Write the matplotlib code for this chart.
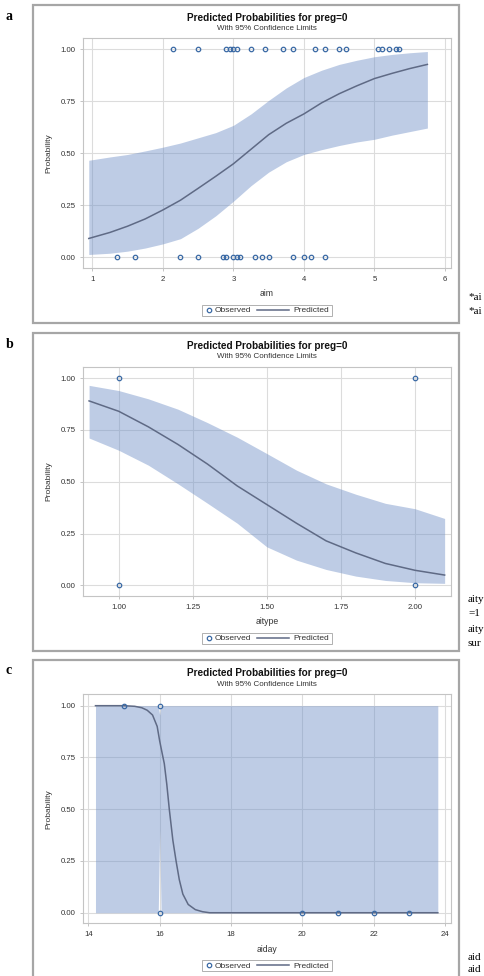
import matplotlib
matplotlib.use('Agg')
import matplotlib.pyplot as plt
from matplotlib.lines import Line2D
from matplotlib.patches import Rectangle

plt.rcParams['font.family'] = ['Liberation Sans', 'DejaVu Sans']

# panel a: aim
aim_x = [0.95, 1.25, 1.5, 1.75, 2.0, 2.25, 2.5, 2.75, 3.0, 3.25, 3.5, 3.75, 4.0, 4.25, 4.5, 4.75, 5.0, 5.25, 5.5, 5.75]
aim_pred = [0.091, 0.12, 0.15, 0.185, 0.228, 0.275, 0.332, 0.39, 0.45, 0.52, 0.59, 0.645, 0.69, 0.743, 0.787, 0.825, 0.86, 0.885, 0.908, 0.928]
aim_upper = [0.467, 0.483, 0.495, 0.512, 0.53, 0.55, 0.575, 0.6, 0.635, 0.69, 0.755, 0.815, 0.865, 0.9, 0.928, 0.948, 0.965, 0.976, 0.984, 0.99]
aim_lower = [0.014, 0.02, 0.03, 0.045, 0.065, 0.09, 0.14, 0.2, 0.27, 0.345, 0.41, 0.46, 0.495, 0.518, 0.538, 0.555, 0.568, 0.588, 0.605, 0.622]
aim_obs1 = [2.15, 2.5, 2.9, 2.95, 3.0, 3.05, 3.25, 3.45, 3.7, 3.85, 4.15, 4.3, 4.5, 4.6, 5.05, 5.1, 5.2, 5.3, 5.35]
aim_obs0 = [1.35, 1.6, 2.25, 2.5, 2.85, 2.9, 3.0, 3.05, 3.1, 3.3, 3.4, 3.5, 3.85, 4.0, 4.1, 4.3]

# panel b: aitype
aitype_x = [0.9, 1.0, 1.1, 1.2, 1.3, 1.4, 1.5, 1.6, 1.7, 1.8, 1.9, 2.0, 2.1]
aitype_pred = [0.89, 0.84, 0.765, 0.68, 0.585, 0.48, 0.39, 0.3, 0.215, 0.157, 0.106, 0.073, 0.05]
aitype_upper = [0.965, 0.94, 0.9, 0.85, 0.785, 0.715, 0.636, 0.556, 0.49, 0.44, 0.396, 0.37, 0.323]
aitype_lower = [0.711, 0.652, 0.58, 0.49, 0.396, 0.3, 0.186, 0.122, 0.077, 0.045, 0.024, 0.013, 0.01]
aitype_obs1 = [1.0, 2.0]
aitype_obs0 = [1.0, 2.0]

# panel c: aiday
aiday_x = [14.2, 15.0, 15.3, 15.5, 15.65, 15.8, 15.93, 16.0, 16.07, 16.13, 16.2, 16.27, 16.37, 16.46,
           16.55, 16.65, 16.8, 17.0, 17.2, 17.4, 23.8]
aiday_pred = [1.0, 1.0, 0.997, 0.99, 0.978, 0.955, 0.9, 0.83, 0.77, 0.72, 0.62, 0.5, 0.35, 0.25,
              0.16, 0.09, 0.04, 0.015, 0.005, 0.0, 0.0]
aiday_band_x = [14.2, 15.96, 16.0, 16.04, 23.8]
aiday_upper = [1.0, 1.0, 0.955, 1.0, 1.0]
aiday_lower = [0.0, 0.0, 0.4, 0.0, 0.0]
aiday_obs1 = [15, 16]
aiday_obs0 = [16, 20, 21, 22, 23]

W, H = 485, 976
band_col = '#6f8fc7'
line_col = '#5f6a85'
mark_col = '#3b6aa5'

fig = plt.figure(figsize=(W / 100, H / 100), dpi=100)

panels = [
    dict(tag='a', frame=(5, 323), ax=(38, 268), title=18, sub=29,
         x=aim_x, pred=aim_pred, bx=aim_x, up=aim_upper, lo=aim_lower,
         o1=aim_obs1, o0=aim_obs0, xlim=(0.868, 6.085),
         xticks=[1, 2, 3, 4, 5, 6], xfmt='{:.0f}', xlabel='aim', xl=294, leg=310,
         side=[(297, '*ai'), (312, '*ai')]),
    dict(tag='b', frame=(333, 651), ax=(366.7, 596), title=346, sub=357,
         x=aitype_x, pred=aitype_pred, bx=aitype_x, up=aitype_upper, lo=aitype_lower,
         o1=aitype_obs1, o0=aitype_obs0, xlim=(0.8795, 2.1215),
         xticks=[1.0, 1.25, 1.5, 1.75, 2.0], xfmt='{:.2f}', xlabel='aitype', xl=622, leg=638,
         side=[(599, 'aity'), (614, '=1'), (629, 'aity'), (643, 'sur')]),
    dict(tag='c', frame=(660, 990), ax=(694.3, 923.3), title=673, sub=684,
         x=aiday_x, pred=aiday_pred, bx=aiday_band_x, up=aiday_upper, lo=aiday_lower,
         o1=aiday_obs1, o0=aiday_obs0, xlim=(13.85, 24.17),
         xticks=[14, 16, 18, 20, 22, 24], xfmt='{:.0f}', xlabel='aiday', xl=949, leg=965,
         side=[(957, 'aid'), (970, 'aid')]),
]

L, R = 83, 451


def px(x, y):
    return x / W, 1 - y / H


for p in panels:
    ft, fb = p['frame']
    fig.patches.append(Rectangle(px(33, fb), 426 / W, (fb - ft) / H,
                                 transform=fig.transFigure, fill=False,
                                 edgecolor='#a6a6a6', lw=1.6))
    fig.text(*px(6, ft + 11), p['tag'], family='Liberation Serif',
             fontweight='bold', fontsize=10, va='center')
    for yy, s in p['side']:
        fig.text(*px(468, yy), s, family='Liberation Serif', fontsize=8, va='center')

    at, ab = p['ax']
    ax = fig.add_axes([L / W, 1 - ab / H, (R - L) / W, (ab - at) / H])
    ax.fill_between(p['bx'], p['lo'], p['up'], color=band_col, alpha=0.45, lw=0, zorder=1.6)
    ax.plot(p['x'], p['pred'], color=line_col, lw=1.1, zorder=3)
    ax.plot(p['o1'], [1] * len(p['o1']), 'o', ms=3.2, mfc='none', mec=mark_col, mew=0.9, zorder=4)
    ax.plot(p['o0'], [0] * len(p['o0']), 'o', ms=3.2, mfc='none', mec=mark_col, mew=0.9, zorder=4)
    ax.set_xlim(*p['xlim'])
    ax.set_ylim(-0.051, 1.055)
    ax.set_xticks(p['xticks'])
    ax.set_xticklabels([p['xfmt'].format(v) for v in p['xticks']])
    ax.set_yticks([0, 0.25, 0.5, 0.75, 1.0])
    ax.set_yticklabels(['0.00', '0.25', '0.50', '0.75', '1.00'])
    ax.grid(True, color='#dcdcdc', lw=0.8)
    for s in ax.spines.values():
        s.set_color('#c4c4c4')
        s.set_linewidth(0.8)
    ax.tick_params(labelsize=5.6, colors='#c4c4c4', labelcolor='#333333',
                   length=2.5, width=0.7, pad=3)
    ax.set_ylabel('Probability', fontsize=6, color='#333333', labelpad=6)
    cx = (L + R) / 2 / W
    fig.text(cx, 1 - p['xl'] / H, p['xlabel'], fontsize=6.2, color='#333333', ha='center', va='center')
    fig.text(cx, 1 - p['title'] / H, 'Predicted Probabilities for preg=0', fontsize=7.2,
             fontweight='bold', color='#111111', ha='center', va='center')
    fig.text(cx, 1 - p['sub'] / H, 'With 95% Confidence Limits', fontsize=5.8,
             color='#333333', ha='center', va='center')

    # legend box drawn by hand to match the compact SAS layout
    ly = p['leg']
    fig.patches.append(Rectangle(px(202, ly + 5.5), 130 / W, 11 / H, transform=fig.transFigure,
                                 facecolor='white', edgecolor='#b0b0b0', lw=0.7))
    fig.lines.append(Line2D([209 / W], [1 - ly / H], transform=fig.transFigure, marker='o', ls='none',
                            ms=3.2, mfc='none', mec=mark_col, mew=0.9))
    fig.text(*px(215, ly), 'Observed', fontsize=6, color='#333333', va='center_baseline')
    fig.lines.append(Line2D([257 / W, 289 / W], [1 - ly / H] * 2, transform=fig.transFigure,
                            color=line_col, lw=1.1))
    fig.text(*px(293, ly), 'Predicted', fontsize=6, color='#333333', va='center_baseline')

fig.savefig('out.png', dpi=100)
